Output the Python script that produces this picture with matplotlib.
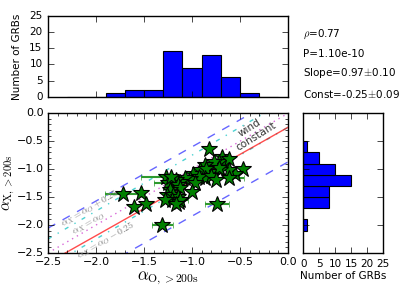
import numpy as np
import matplotlib
matplotlib.use('Agg')
import matplotlib.pyplot as plt
from matplotlib.ticker import MultipleLocator, NullFormatter

plt.style.use('classic')
plt.rcParams['figure.facecolor'] = 'white'
plt.rcParams['savefig.facecolor'] = 'white'

# optical vs X-ray decay indices after 200 s
alpha_o = [-0.82, -1.72, -1.53, -1.60, -1.48, -1.31, -0.74, -0.47,
           -0.69, -0.66, -0.72, -0.61, -0.77,
           -0.55, -0.62, -0.71, -0.81, -0.865, -0.92, -0.99, -0.72, -0.85,
           -0.865, -0.93, -1.02, -1.07, -1.125, -1.17, -1.195, -1.275, -1.25,
           -0.62, -0.80, -0.75, -0.97, -1.22, -1.15,
           -1.125, -1.23, -1.265, -1.195, -1.145, -1.00,
           -1.21, -1.14, -1.28, -1.12, -1.17]
alpha_x = [-0.64, -1.45, -1.43, -1.67, -1.63, -2.00, -1.62, -1.00,
           -0.78, -0.87, -0.87, -0.81, -0.88,
           -1.09, -1.02, -1.02, -1.05, -0.93, -1.02, -1.08, -0.97, -1.00,
           -1.165, -1.14, -1.18, -1.165, -1.226, -1.195, -1.255, -1.14, -1.25,
           -1.16, -1.12, -1.20, -1.25, -1.14, -1.29,
           -1.344, -1.375, -1.46, -1.46, -1.49, -1.405,
           -1.55, -1.58, -1.55, -1.55, -1.62]
alpha_o_err = [0.03, 0.19, 0.04, 0.03, 0.03, 0.11, 0.12, 0.03,
               0.03, 0.03, 0.03, 0.03, 0.03,
               0.04, 0.03, 0.03, 0.03, 0.03, 0.03, 0.03, 0.03, 0.03,
               0.03, 0.03, 0.03, 0.03, 0.03, 0.03, 0.03, 0.26, 0.15,
               0.16, 0.03, 0.03, 0.03, 0.03, 0.03,
               0.03, 0.03, 0.03, 0.03, 0.03, 0.03,
               0.04, 0.03, 0.04, 0.08, 0.03]

# histograms
bins_o = [-2.3, -2.1, -1.9, -1.7, -1.5, -1.3, -1.1, -0.9, -0.7, -0.5, -0.3, -0.1]
counts_o = [0, 0, 1, 2, 2, 14, 9, 13, 6, 1, 0]
bins_x = [-2.1, -1.9, -1.7, -1.5, -1.3, -1.1, -0.9, -0.7, -0.5]
counts_x = [1, 0, 8, 8, 15, 10, 5, 1]

slope, const, band = 0.97, -0.25, 0.62

fig = plt.figure(figsize=(4.11, 3.02), dpi=100)
ax = fig.add_axes([0.1168, 0.1623, 0.584, 0.4625])
axt = fig.add_axes([0.1168, 0.680, 0.584, 0.267])
axr = fig.add_axes([0.738, 0.1623, 0.1946, 0.4625])

# main scatter
xx = np.array([-2.5, 0.0])
ax.plot(xx, slope * xx + const + band, 'b--', lw=1, alpha=0.6, zorder=1)
ax.plot(xx, slope * xx + const - band, 'b--', lw=1, alpha=0.6, zorder=1)
ax.plot(xx, xx + 0.25, 'c-.', lw=1, alpha=0.7, zorder=1)
ax.plot(xx, xx - 0.25, 'c-.', lw=1, alpha=0.7, zorder=1)
ax.plot(xx, xx, 'm:', lw=1, alpha=0.6, zorder=1)
ax.plot(xx, slope * xx + const, 'r-', lw=1, alpha=0.7, zorder=1)
ax.errorbar(alpha_o, alpha_x, xerr=alpha_o_err, fmt='none', ecolor='#2e9a2e',
            elinewidth=1.5, capsize=2, zorder=2)
ax.plot(alpha_o, alpha_x, '*', ms=12, mfc='g', mec='k', mew=0.8, zorder=3)

ax.text(-2.06, -1.70, r'$\alpha_X=\alpha_O+0.25$', color='gray', fontsize=7,
        rotation=30, ha='center', va='center')
ax.text(-2.07, -1.98, r'$\alpha_X=\alpha_O$', color='gray', fontsize=7,
        rotation=30, ha='center', va='center')
ax.text(-1.89, -2.27, r'$\alpha_X=\alpha_O-0.25$', color='gray', fontsize=7,
        rotation=30, ha='center', va='center')
ax.text(-0.40, -0.27, 'wind', fontsize=7.5, color='0.2', rotation=32,
        ha='center', va='center')
ax.text(-0.33, -0.42, 'constant', fontsize=7.5, color='0.2', rotation=32,
        ha='center', va='center')

ax.set_xlim(-2.5, 0.0)
ax.set_ylim(-2.5, 0.0)
ax.xaxis.set_major_locator(MultipleLocator(0.5))
ax.yaxis.set_major_locator(MultipleLocator(0.5))
ax.xaxis.set_minor_locator(MultipleLocator(0.1))
ax.yaxis.set_minor_locator(MultipleLocator(0.1))
ax.tick_params(labelsize=8, pad=3)
ax.set_xlabel(r'$\alpha_{\rm O,>200s}$', fontsize=12, labelpad=1)
ax.set_ylabel(r'$\alpha_{\rm X,>200s}$', fontsize=11, labelpad=0)

# top histogram
axt.bar(bins_o[:-1], counts_o, width=np.diff(bins_o), align='edge',
        color='b', edgecolor='k', lw=0.8)
axt.set_xlim(-2.5, 0.0)
axt.set_ylim(0, 25)
axt.yaxis.set_major_locator(MultipleLocator(5))
axt.xaxis.set_major_locator(MultipleLocator(0.5))
axt.xaxis.set_major_formatter(NullFormatter())
axt.tick_params(labelsize=7.5)
axt.set_ylabel('Number of GRBs', fontsize=7.5)

# right histogram
axr.barh(bins_x[:-1], counts_x, height=np.diff(bins_x), align='edge',
         color='b', edgecolor='k', lw=0.8)
axr.set_ylim(-2.5, 0.0)
axr.set_xlim(0, 25)
axr.xaxis.set_major_locator(MultipleLocator(5))
axr.yaxis.set_major_locator(MultipleLocator(0.5))
axr.yaxis.set_major_formatter(NullFormatter())
axr.tick_params(labelsize=7.5)
axr.set_xlabel('Number of GRBs', fontsize=7.5, labelpad=2)

fig.text(0.738, 0.887, r'$\rho$=0.77', fontsize=7.5, va='center')
fig.text(0.738, 0.820, 'P=1.10e-10', fontsize=7.5, va='center')
fig.text(0.738, 0.757, r'Slope=0.97$\pm$0.10', fontsize=7.5, va='center')
fig.text(0.738, 0.688, r'Const=-0.25$\pm$0.09', fontsize=7.5, va='center')

fig.savefig('out.png', dpi=100)
